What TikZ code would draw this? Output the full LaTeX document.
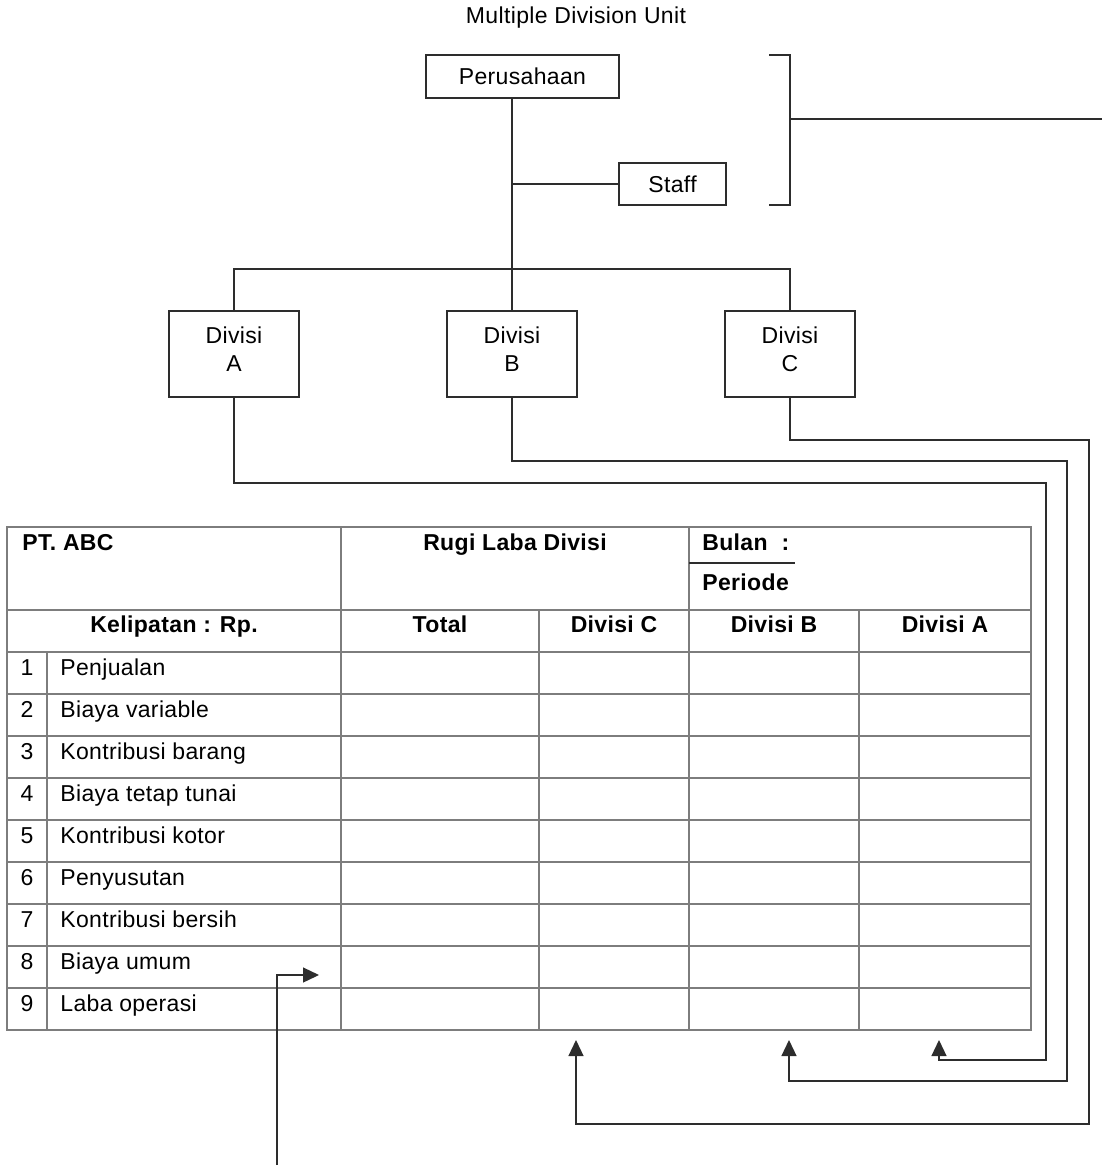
\documentclass[tikz,border=0pt]{standalone}
\usepackage{fontspec}
\setmainfont{Liberation Sans}[LetterSpace=1.5]
\usetikzlibrary{arrows.meta}
\definecolor{linecol}{RGB}{45,45,45}
\definecolor{gridcol}{RGB}{125,125,125}
\begin{document}
\begin{tikzpicture}[x=0.5pt, y=-0.5pt,
  every node/.style={font=\fontsize{11.5}{14}\selectfont, inner sep=0pt},
  unit/.style={draw=linecol, line width=0.65pt, minimum height=21.5pt},
  divbox/.style={unit, minimum width=65pt, minimum height=43pt, align=center, text depth=5pt},
  conn/.style={draw=linecol, line width=0.65pt},
  feed/.style={conn, -{Triangle[length=8pt, width=7.5pt]}},
  grid/.style={draw=gridcol, line width=0.6pt},
  head/.style={font=\fontsize{11.5}{14}\selectfont\bfseries, anchor=base}]
  \useasboundingbox (0,0) rectangle (1102,1169);
  % organisation chart
  \node (title) at (576,18) {Multiple Division Unit};
  \node[unit, minimum width=96.5pt] (pers) at (522.5,76.5) {Perusahaan};
  \node[unit, minimum width=53.5pt, minimum height=21pt] (staff) at (672.5,184) {Staff};
  \node[divbox] (divA) at (234,354) {Divisi\\A};
  \node[divbox] (divB) at (512,354) {Divisi\\B};
  \node[divbox] (divC) at (790,354) {Divisi\\C};
  \coordinate (bus) at (512,269);
  \draw[conn] (divB |- pers.south) -- (divB.north);
  \draw[conn] (divB |- staff.west) -- (staff.west);
  \draw[conn] (divA.north) |- (bus) -| (divC.north);
  % bracket
  \coordinate (brtop) at (769,55);
  \coordinate (brbot) at (769,205);
  \coordinate (brmid) at (790,119);
  \coordinate (brout) at (1102,119);
  \draw[conn] (brtop) -- ++(21,0) |- (brbot);
  \draw[conn] (brmid) -- (brout);
  % table
  \draw[grid] (7,527) rectangle (1031,1030);
  \draw[grid] (7,610) -- (1031,610);
  \foreach \y in {652,694,...,988}
    \draw[grid] (7,\y) -- (1031,\y);
  \draw[grid] (47,652) -- (47,1030);
  \draw[grid] (341,527) -- (341,1030);
  \draw[grid] (539,610) -- (539,1030);
  \draw[grid] (689,527) -- (689,1030);
  \draw[grid] (859,610) -- (859,1030);
  \draw[conn] (689,563) -- (795,563);
  \node[head, anchor=base west] (ptabc) at (22,550) {PT. ABC};
  \node[head] (rugi) at (515,550) {Rugi Laba Divisi};
  \node[head, anchor=base west] (bulan) at (702,550) {Bulan\hspace{7pt}:};
  \node[head, anchor=base west] (periode) at (702,590) {Periode};
  \node[head] (kelip) at (174,632) {Kelipatan : Rp.};
  \node[head] (hTotal) at (440,632) {Total};
  \node[head] (hC) at (614,632) {Divisi C};
  \node[head] (hB) at (774,632) {Divisi B};
  \node[head] (hA) at (945,632) {Divisi A};
  \foreach \n/\t in {1/Penjualan, 2/Biaya variable, 3/Kontribusi barang,
      4/Biaya tetap tunai, 5/Kontribusi kotor, 6/Penyusutan,
      7/Kontribusi bersih, 8/Biaya umum, 9/Laba operasi} {
    \node[anchor=base] (num\n) at (27,{652+42*(\n-1)+23}) {\n};
    \node[anchor=base west] (item\n) at (60,{652+42*(\n-1)+23}) {\t};
  }
  % flows into the table
  \coordinate (inA) at (939,1040);
  \coordinate (inB) at (789,1040);
  \coordinate (inC) at (576,1040);
  \coordinate (inTot) at (319,975);
  \coordinate (lowend) at (277,1165);
  \draw[feed] (divA.south) |- (1046,483) |- (939,1060) -- (inA);
  \draw[feed] (divB.south) |- (1067,461) |- (789,1081) -- (inB);
  \draw[feed] (divC.south) |- (1089,440) |- (576,1124) -- (inC);
  \draw[feed] (lowend) |- (inTot);
\end{tikzpicture}
\end{document}
